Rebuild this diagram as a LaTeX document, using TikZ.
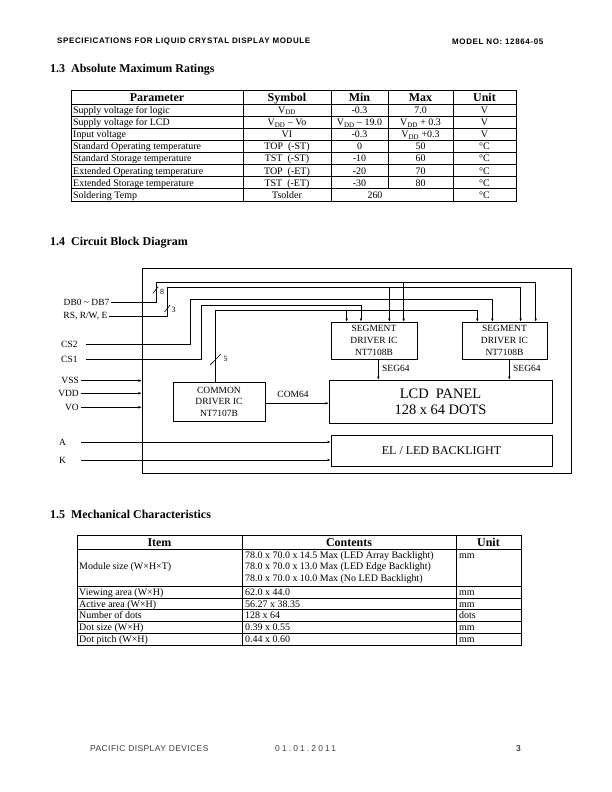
\documentclass[tikz,border=0pt]{standalone}
\usepackage{fontspec}
\setmainfont{Liberation Serif}
\newfontfamily\hdrfont[LetterSpace=8]{Liberation Sans}
\newfontfamily\footfont[LetterSpace=5]{Liberation Sans}
\newfontfamily\datefont[LetterSpace=25]{Liberation Sans}
\usetikzlibrary{arrows.meta}

\tikzset{
  every node/.style={inner sep=0pt},
  grid/.style={line width=0.6bp},
  tab/.style={font=\fontsize{10}{11.3}\selectfont, anchor=base},
  tabhead/.style={font=\fontsize{12}{14}\selectfont\bfseries, anchor=base},
  sect/.style={font=\fontsize{12}{14}\selectfont\bfseries, anchor=west},
  pagehead/.style={font=\hdrfont\fontsize{8}{9}\selectfont\bfseries},
  pagefoot/.style={font=\footfont\fontsize{8.5}{10}\selectfont, text=black!75},
  blk/.style={draw, line width=0.6bp, align=center, font=\fontsize{9.5}{11.8}\selectfont},
  lbl/.style={font=\fontsize{9.5}{11}\selectfont, inner sep=1.5bp},
  num/.style={font=\fontsize{8}{9}\selectfont, inner sep=1bp},
  wire/.style={line width=0.6bp},
  arr/.style={wire, -{Latex[length=3.2bp,width=2.6bp]}},
}

\begin{document}
\begin{tikzpicture}[x=1bp,y=-1bp]
\fill[white] (0,0) rectangle (612,792);
\useasboundingbox (0,0) rectangle (612,792);

% page header
\node[pagehead, anchor=west] (spec) at (57,42) {SPECIFICATIONS FOR LIQUID CRYSTAL DISPLAY MODULE};
\node[pagehead, anchor=west] (model) at (452,42) {MODEL NO:\ 12864-05};

% 1.3
\node[sect] (sec13) at (50,70) {1.3\ \ Absolute Maximum Ratings};
\draw[grid] (71,90) rectangle (516,200.8);
\draw[grid] (71,104) -- (516,104);
\draw[grid] (71,116.1) -- (516,116.1);
\draw[grid] (71,128.2) -- (516,128.2);
\draw[grid] (71,140.3) -- (516,140.3);
\draw[grid] (71,152.4) -- (516,152.4);
\draw[grid] (71,164.5) -- (516,164.5);
\draw[grid] (71,176.6) -- (516,176.6);
\draw[grid] (71,188.7) -- (516,188.7);
\draw[grid] (243,90) -- (243,200.8);
\draw[grid] (331,90) -- (331,200.8);
\draw[grid] (388,90) -- (388,188.7);
\draw[grid] (453,90) -- (453,200.8);

\node[tabhead] (hpar) at (157,101) {Parameter};
\node[tabhead] (hsym) at (287,101) {Symbol};
\node[tabhead] (hmin) at (359.5,101) {Min};
\node[tabhead] (hmax) at (420.5,101) {Max};
\node[tabhead] (hunit) at (484.5,101) {Unit};

\node[tab, anchor=base west] (p1) at (73,113.5) {Supply voltage for logic};
\node[tab] (s1) at (287,113.5) {V\textsubscript{DD}};
\node[tab] (mn1) at (359.5,113.5) {-0.3};
\node[tab] (mx1) at (420.5,113.5) {7.0};
\node[tab] (u1) at (484.5,113.5) {V};

\node[tab, anchor=base west] (p2) at (73,125.6) {Supply voltage for LCD};
\node[tab] (s2) at (287,125.6) {V\textsubscript{DD} -- Vo};
\node[tab] (mn2) at (359.5,125.6) {V\textsubscript{DD} -- 19.0};
\node[tab] (mx2) at (420.5,125.6) {V\textsubscript{DD} + 0.3};
\node[tab] (u2) at (484.5,125.6) {V};

\node[tab, anchor=base west] (p3) at (73,137.7) {Input voltage};
\node[tab] (s3) at (287,137.7) {VI};
\node[tab] (mn3) at (359.5,137.7) {-0.3};
\node[tab] (mx3) at (420.5,137.7) {V\textsubscript{DD} +0.3};
\node[tab] (u3) at (484.5,137.7) {V};

\node[tab, anchor=base west] (p4) at (73,149.8) {Standard Operating temperature};
\node[tab] (s4) at (287,149.8) {TOP\ \ (-ST)};
\node[tab] (mn4) at (359.5,149.8) {0};
\node[tab] (mx4) at (420.5,149.8) {50};
\node[tab] (u4) at (484.5,149.8) {°C};

\node[tab, anchor=base west] (p5) at (73,161.9) {Standard Storage temperature};
\node[tab] (s5) at (287,161.9) {TST\ \ (-ST)};
\node[tab] (mn5) at (359.5,161.9) {-10};
\node[tab] (mx5) at (420.5,161.9) {60};
\node[tab] (u5) at (484.5,161.9) {°C};

\node[tab, anchor=base west] (p6) at (73,174) {Extended Operating temperature};
\node[tab] (s6) at (287,174) {TOP\ \ (-ET)};
\node[tab] (mn6) at (359.5,174) {-20};
\node[tab] (mx6) at (420.5,174) {70};
\node[tab] (u6) at (484.5,174) {°C};

\node[tab, anchor=base west] (p7) at (73,186.1) {Extended Storage temperature};
\node[tab] (s7) at (287,186.1) {TST\ \ (-ET)};
\node[tab] (mn7) at (359.5,186.1) {-30};
\node[tab] (mx7) at (420.5,186.1) {80};
\node[tab] (u7) at (484.5,186.1) {°C};

\node[tab, anchor=base west] (p8) at (73,198.2) {Soldering Temp};
\node[tab] (s8) at (287,198.2) {Tsolder};
\node[tab] (mm8) at (375,198.2) {260};
\node[tab] (u8) at (484.5,198.2) {°C};

% 1.4
\node[sect] (sec14) at (50,243) {1.4\ \ Circuit Block Diagram};
\node[draw, line width=0.6bp, minimum width=429bp, minimum height=205bp] (module) at (356.5,370.5) {};

\node[blk, minimum width=86bp, minimum height=37bp] (seg1) at (374,340.5) {SEGMENT\\DRIVER IC\\NT7108B};
\node[blk, minimum width=85bp, minimum height=37bp] (seg2) at (504.5,340.5) {SEGMENT\\DRIVER IC\\NT7108B};
\node[blk, minimum width=92bp, minimum height=39bp] (com) at (219,401.7) {COMMON\\DRIVER IC\\NT7107B};
\node[blk, minimum width=223bp, minimum height=43bp, font=\fontsize{14.5}{16}\selectfont] (lcd) at (440.5,401.5) {LCD\ \ PANEL\\128 x 64 DOTS};
\node[blk, minimum width=221bp, minimum height=31bp, font=\fontsize{12}{14}\selectfont] (el) at (441.5,450.5) {EL / LED BACKLIGHT};

% data bus, 8 lines
\node[lbl, anchor=east] (db) at (111,302.7) {DB0 \textasciitilde\ DB7};
\coordinate (b1) at (156.7,282.7);
\coordinate (t1a) at (403.7,282.7);
\coordinate (t1b) at (535.7,282.7);
\draw[wire] (db.east) -| (b1) -- (t1b);
\draw[arr] (t1a) -- (t1a |- seg1.north);
\draw[arr] (t1b) -- (t1b |- seg2.north);
\draw[wire] (152.9,293.3) -- (158.3,286.5);
\node[num] (n8) at (162,292) {8};

% RS, R/W, E
\node[lbl, anchor=east] (rs) at (109,316) {RS, R/W, E};
\coordinate (b2) at (167.3,287.7);
\coordinate (t2a) at (389.3,287.7);
\coordinate (t2b) at (520.7,287.7);
\draw[wire] (rs.east) -| (b2) -- (t2b);
\draw[arr] (t2a) -- (t2a |- seg1.north);
\draw[arr] (t2b) -- (t2b |- seg2.north);
\draw[wire] (164.5,312) -- (169.9,305.2);
\node[num] (n3) at (173.5,310) {3};

% chip selects
\node[lbl, anchor=west] (cs2) at (59.5,344) {CS2};
\coordinate (cs2a) at (86,344);
\coordinate (b3) at (190.3,299.3);
\coordinate (t3) at (492.3,299.3);
\draw[wire] (cs2a) -| (b3) -- (t3);
\draw[arr] (t3) -- (t3 |- seg2.north);

\node[lbl, anchor=west] (cs1) at (59.5,359) {CS1};
\coordinate (cs1a) at (86,359);
\coordinate (b4) at (201.3,305);
\coordinate (t4) at (361,305);
\draw[wire] (cs1a) -| (b4) -- (t4);
\draw[arr] (t4) -- (t4 |- seg1.north);

% common driver link, 5 lines
\coordinate (b5) at (215.7,310.3);
\coordinate (t5a) at (346.7,310.3);
\coordinate (t5b) at (477.3,310.3);
\draw[wire] (com.north -| b5) -- (b5) -- (t5b);
\draw[arr] (t5a) -- (t5a |- seg1.north);
\draw[arr] (t5b) -- (t5b |- seg2.north);
\draw[wire] (210.3,364.8) -- (221,354);
\node[num] (n5) at (225.5,358.5) {5};

% power
\node[lbl, anchor=east] (vss) at (80.5,380.7) {VSS};
\node[lbl, anchor=east] (vdd) at (80.5,393.3) {VDD};
\node[lbl, anchor=east] (vo) at (80.5,407.3) {VO};
\draw[arr] (vss.east) -- (vss.east -| module.west);
\draw[arr] (vdd.east) -- (vdd.east -| module.west);
\draw[arr] (vo.east) -- (vo.east -| module.west);

% driver outputs
\draw[arr] (com.east |- 0,403.3) -- (lcd.west |- 0,403.3);
\node[lbl] (com64) at (293,394) {COM64};
\draw[arr] (seg1.south -| 378.3,0) -- (lcd.north -| 378.3,0);
\node[lbl, anchor=west] (sg1) at (380.5,368.5) {SEG64};
\draw[arr] (seg2.south -| 509.3,0) -- (lcd.north -| 509.3,0);
\node[lbl, anchor=west] (sg2) at (511.5,368.5) {SEG64};

% backlight
\node[lbl, anchor=west] (ka) at (57.5,442) {A};
\node[lbl, anchor=west] (kk) at (57.5,460) {K};
\coordinate (a0) at (81,442);
\coordinate (k0) at (81,460);
\draw[arr] (a0) -- (a0 -| el.west);
\draw[arr] (k0) -- (k0 -| el.west);

% 1.5
\node[sect] (sec15) at (50,514) {1.5\ \ Mechanical Characteristics};
\draw[grid] (77,535) rectangle (521,645);
\draw[grid] (77,549) -- (521,549);
\draw[grid] (77,586) -- (521,586);
\draw[grid] (77,597.8) -- (521,597.8);
\draw[grid] (77,609.6) -- (521,609.6);
\draw[grid] (77,621.4) -- (521,621.4);
\draw[grid] (77,633.2) -- (521,633.2);
\draw[grid] (242,535) -- (242,645);
\draw[grid] (456,535) -- (456,645);

\node[tabhead] (hitem) at (159.5,546) {Item};
\node[tabhead] (hcont) at (349,546) {Contents};
\node[tabhead] (hu2) at (488.5,546) {Unit};

\node[tab, anchor=base west] (i1) at (79,569.8) {Module size (W×H×T)};
\node[tab, anchor=base west] (c1a) at (245,558.3) {78.0 x 70.0 x 14.5 Max (LED Array Backlight)};
\node[tab, anchor=base west] (c1b) at (245,569.8) {78.0 x 70.0 x 13.0 Max (LED Edge Backlight)};
\node[tab, anchor=base west] (c1c) at (245,581.3) {78.0 x 70.0 x 10.0 Max (No LED Backlight)};
\node[tab, anchor=base west] (v1) at (459,558.3) {mm};

\node[tab, anchor=base west] (i2) at (79,595.2) {Viewing area (W×H)};
\node[tab, anchor=base west] (c2) at (245,595.2) {62.0 x 44.0};
\node[tab, anchor=base west] (v2) at (459,595.2) {mm};

\node[tab, anchor=base west] (i3) at (79,607) {Active area (W×H)};
\node[tab, anchor=base west] (c3) at (245,607) {56.27 x 38.35};
\node[tab, anchor=base west] (v3) at (459,607) {mm};

\node[tab, anchor=base west] (i4) at (79,618.8) {Number of dots};
\node[tab, anchor=base west] (c4) at (245,618.8) {128 x 64};
\node[tab, anchor=base west] (v4) at (459,618.8) {dots};

\node[tab, anchor=base west] (i5) at (79,630.6) {Dot size (W×H)};
\node[tab, anchor=base west] (c5) at (245,630.6) {0.39 x 0.55};
\node[tab, anchor=base west] (v5) at (459,630.6) {mm};

\node[tab, anchor=base west] (i6) at (79,642.4) {Dot pitch (W×H)};
\node[tab, anchor=base west] (c6) at (245,642.4) {0.44 x 0.60};
\node[tab, anchor=base west] (v6) at (459,642.4) {mm};

% page footer
\node[pagefoot, anchor=west] (pdd) at (90,749) {PACIFIC DISPLAY DEVICES};
\node[pagefoot, anchor=west, font=\datefont\fontsize{8.5}{10}\selectfont] (date) at (275,749) {01.01.2011};
\node[pagefoot, anchor=east, text=black] (page) at (521,749) {3};
\end{tikzpicture}
\end{document}
